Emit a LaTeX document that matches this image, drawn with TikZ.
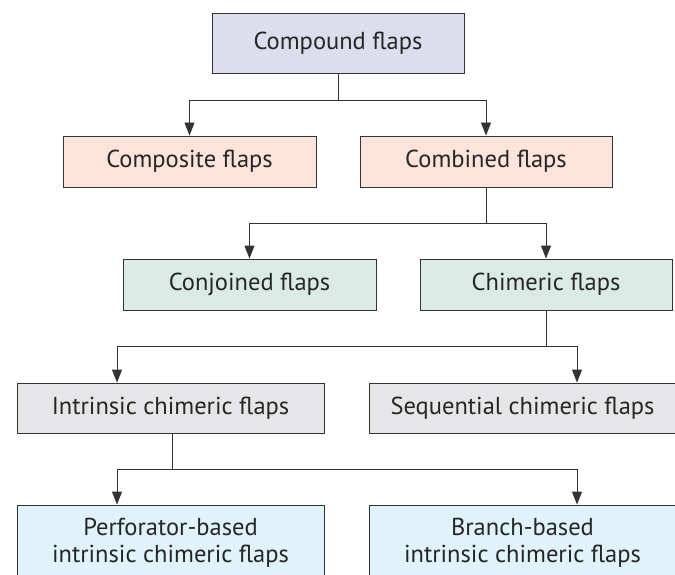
\documentclass[tikz,border=0pt]{standalone}
\usepackage{fontspec}
\setmainfont{PT Sans}
\usetikzlibrary{arrows.meta}

\definecolor{lavender}{HTML}{DCDEEE}
\definecolor{peach}{HTML}{FCE4DA}
\definecolor{mint}{HTML}{DAEAE4}
\definecolor{pale}{HTML}{E6E6E8}
\definecolor{sky}{HTML}{E0F2FA}
\definecolor{ink}{HTML}{333333}

\begin{document}
\begin{tikzpicture}[x=1pt,y=-1pt,
  box/.style={draw=ink,line width=0.9pt,inner sep=0pt,minimum height=51pt,
    text=black!85,align=center,font=\fontsize{24.5}{27}\selectfont},
  link/.style={draw=ink,line width=0.9pt},
  arr/.style={link,-{Triangle[length=13pt,width=10pt]}}]
\useasboundingbox (0,0) rectangle (675,575);

% boxes
\node[box,fill=lavender,minimum width=252pt,minimum height=60pt] (compound) at (338,43) {Compound flaps};

\node[box,fill=peach,minimum width=253pt] (composite) at (189.5,161.5) {Composite flaps};
\node[box,fill=peach,minimum width=252pt] (combined) at (486,161.5) {Combined flaps};

\node[box,fill=mint,minimum width=253pt] (conjoined) at (249.5,284.5) {Conjoined flaps};
\node[box,fill=mint,minimum width=252pt] (chimeric) at (546,284.5) {Chimeric flaps};

\node[box,fill=pale,minimum width=307pt,minimum height=50pt] (intrinsic) at (170.5,408) {Intrinsic chimeric flaps};
\node[box,fill=pale,minimum width=307pt,minimum height=50pt] (sequential) at (522.5,408) {Sequential chimeric flaps};

\node[box,fill=sky,minimum width=307pt,minimum height=76pt] (perforator) at (170.5,543) {Perforator-based\\intrinsic chimeric flaps};
\node[box,fill=sky,minimum width=307pt,minimum height=76pt] (branch) at (522.5,543) {Branch-based\\intrinsic chimeric flaps};

% connectors
\coordinate (j1) at (338,100);
\draw[link] (compound) -- (j1);
\draw[arr] (j1) -| (composite);
\draw[arr] (j1) -| (combined);

\coordinate (j2) at (486,223);
\draw[link] (combined) -- (j2);
\draw[arr] (j2) -| (conjoined);
\draw[arr] (j2) -| (chimeric);

\coordinate (j3) at (546,346);
\coordinate (j3l) at (117,346);
\coordinate (j3r) at (577,346);
\draw[link] (chimeric) -- (j3);
\draw[arr] (j3) -- (j3l) -- (j3l |- intrinsic.north);
\draw[arr] (j3) -- (j3r) -- (j3r |- sequential.north);

\coordinate (j4) at (172,469);
\coordinate (j4l) at (117,469);
\coordinate (j4r) at (577,469);
\draw[link] (j4 |- intrinsic.south) -- (j4);
\draw[arr] (j4) -- (j4l) -- (j4l |- perforator.north);
\draw[arr] (j4) -- (j4r) -- (j4r |- branch.north);
\end{tikzpicture}
\end{document}
